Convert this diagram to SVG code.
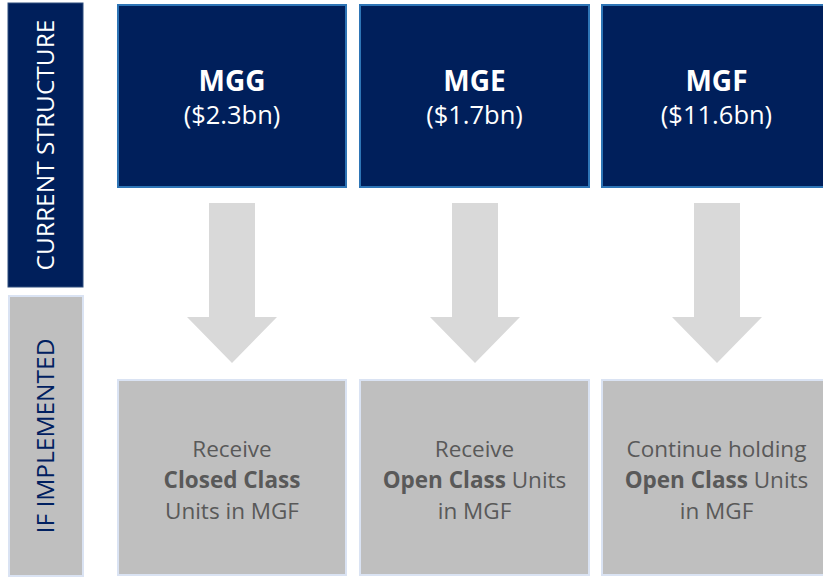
<svg xmlns="http://www.w3.org/2000/svg" width="823" height="577" viewBox="0 0 823 577">
<style>
.top{fill:#001f5b;stroke:#2e75b6;stroke-width:2}
.bot{fill:#bfbfbf;stroke:#dae3f3;stroke-width:2}
.arrow{fill:#d9d9d9}
.t{font-family:"Open Sans","Liberation Sans",sans-serif;text-anchor:middle}
.h{fill:#ffffff;font-size:28px;font-weight:bold}
.s{fill:#ffffff;font-size:25.5px}
.b{fill:#595959;font-size:22.5px}
.side{font-size:24.5px}
</style>
<rect width="823" height="577" fill="#ffffff"/>
<g id="label-current">
<rect x="8" y="3" width="75" height="284" fill="#001f5b" stroke="#2f4f7f" stroke-width="1"/>
<text class="t side" fill="#ffffff" transform="translate(54,145) rotate(-90)">CURRENT STRUCTURE</text>
</g>
<g id="label-implemented">
<rect x="9" y="296" width="74" height="280" fill="#bfbfbf" stroke="#dae3f3" stroke-width="2"/>
<text class="t side" fill="#002060" transform="translate(54,436) rotate(-90)">IF IMPLEMENTED</text>
</g>
<g id="mgg">
<rect class="top" x="118" y="5" width="228" height="182"/>
<text class="t h" x="232" y="91">MGG</text>
<text class="t s" x="232" y="124">($2.3bn)</text>
</g>
<g id="mge">
<rect class="top" x="360" y="5" width="229" height="182"/>
<text class="t h" x="474.5" y="91">MGE</text>
<text class="t s" x="474.5" y="124">($1.7bn)</text>
</g>
<g id="mgf">
<rect class="top" x="602" y="5" width="229" height="182"/>
<text class="t h" x="716.5" y="91">MGF</text>
<text class="t s" x="716.5" y="124">($11.6bn)</text>
</g>
<g id="connectors">
<polygon class="arrow" points="209,203 255,203 255,317 277,317 232,363 187,317 209,317"/>
<polygon class="arrow" points="452,203 498,203 498,317 520,317 475,363 430,317 452,317"/>
<polygon class="arrow" points="694,203 740,203 740,317 762,317 717,363 672,317 694,317"/>
</g>
<g id="mgg-result">
<rect class="bot" x="118" y="380" width="228" height="195"/>
<text class="t b" x="232" y="457">Receive</text>
<text class="t b" x="232" y="488"><tspan font-weight="bold">Closed Class</tspan></text>
<text class="t b" x="232" y="519">Units in MGF</text>
</g>
<g id="mge-result">
<rect class="bot" x="360" y="380" width="229" height="195"/>
<text class="t b" x="474.5" y="457">Receive</text>
<text class="t b" x="474.5" y="488"><tspan font-weight="bold">Open Class</tspan> Units</text>
<text class="t b" x="474.5" y="519">in MGF</text>
</g>
<g id="mgf-result">
<rect class="bot" x="602" y="380" width="229" height="195"/>
<text class="t b" x="716.5" y="457">Continue holding</text>
<text class="t b" x="716.5" y="488"><tspan font-weight="bold">Open Class</tspan> Units</text>
<text class="t b" x="716.5" y="519">in MGF</text>
</g>
</svg>
